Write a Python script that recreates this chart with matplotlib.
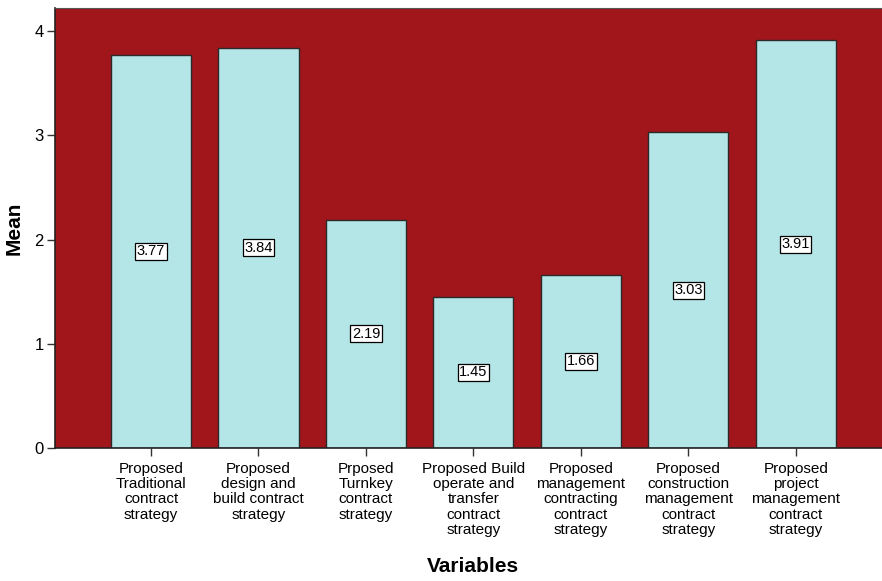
import matplotlib.pyplot as plt

plt.rcParams['font.family'] = ['Liberation Sans', 'DejaVu Sans']

labels = ["Proposed\nTraditional\ncontract\nstrategy",
          "Proposed\ndesign and\nbuild contract\nstrategy",
          "Prposed\nTurnkey\ncontract\nstrategy",
          "Proposed Build\noperate and\ntransfer\ncontract\nstrategy",
          "Proposed\nmanagement\ncontracting\ncontract\nstrategy",
          "Proposed\nconstruction\nmanagement\ncontract\nstrategy",
          "Proposed\nproject\nmanagement\ncontract\nstrategy"]
means = [3.77, 3.84, 2.19, 1.45, 1.66, 3.03, 3.91]

fig = plt.figure(figsize=(8.82, 5.81), dpi=100)
ax = fig.add_axes([0.0624, 0.229, 1.01 - 0.0624, 0.757])
ax.set_facecolor('#A0161A')

x = list(range(len(means)))
ax.bar(x, means, width=0.745, color='#B4E5E7', edgecolor='#2a2a2a', linewidth=1)

for xi, m in zip(x, means):
    ax.text(xi, m / 2, f"{m:.2f}", ha='center', va='center', fontsize=10.5,
            bbox=dict(boxstyle='square,pad=0.1', facecolor='white', edgecolor='black', linewidth=0.9))

ax.set_xlim(-0.893, 6.884)
ax.set_ylim(0, 4.22)
ax.set_yticks([0, 1, 2, 3, 4])
ax.set_xticks(x)
ax.set_xticklabels(labels, fontsize=11, linespacing=1.12)
ax.tick_params(axis='both', direction='out', length=6, width=1, color='#333333')
ax.tick_params(axis='y', labelsize=12, pad=2)
ax.tick_params(axis='x', pad=4)

for s in ['left', 'bottom']:
    ax.spines[s].set_color('#222222')
    ax.spines[s].set_linewidth(1.2)
ax.spines['top'].set_color('#555555')
ax.spines['right'].set_visible(False)

ax.set_ylabel('Mean', fontsize=15, fontweight='bold', labelpad=8)
ax.set_xlabel('Variables', fontsize=15, fontweight='bold', labelpad=14)

fig.savefig('out.png', dpi=100)
